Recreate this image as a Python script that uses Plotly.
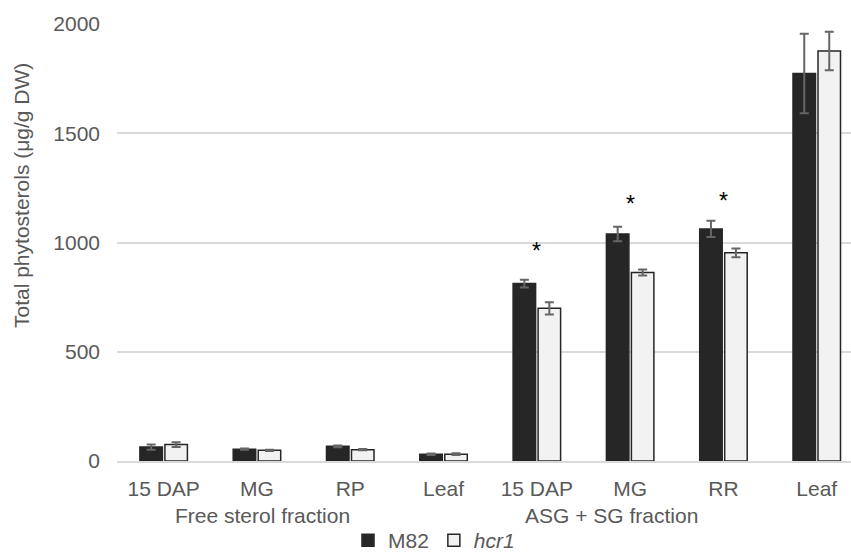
import plotly.graph_objects as go

categories = ["15 DAP", "MG", "RP", "Leaf", "15 DAP", "MG", "RR", "Leaf"]
m82_values = [64, 54, 67, 31, 812, 1039, 1062, 1773]
m82_errors = [12, 3, 4, 3, 18, 33, 37, 182]
hcr1_values = [75, 49, 52, 31, 699, 863, 953, 1876]
hcr1_errors = [11, 3, 3, 4, 28, 14, 20, 88]
group_labels = ["Free sterol fraction", "ASG + SG fraction"]
group_label_pos = [1.06, 4.80]
star_categories = [4, 5, 6]
star_values = [978, 1193, 1207]
y_ticks = [0, 500, 1000, 1500, 2000]

xs = list(range(len(categories)))
FONT = "Liberation Sans, Arial, sans-serif"
TXT = "#595959"

fig = go.Figure()
fig.add_trace(go.Bar(
    x=xs, y=m82_values, name="M82",
    marker=dict(color="#262626", line=dict(color="#262626", width=1.5)),
    error_y=dict(type="data", array=m82_errors, color="#666666", thickness=2, width=4.5),
))
fig.add_trace(go.Bar(
    x=xs, y=hcr1_values, name="<i>hcr1</i>",
    marker=dict(color="#f2f2f2", line=dict(color="#262626", width=1.5)),
    error_y=dict(type="data", array=hcr1_errors, color="#666666", thickness=2, width=4.5),
))

annotations = []
for lbl, pos in zip(group_labels, group_label_pos):
    annotations.append(dict(x=pos, y=-0.124, xref="x", yref="paper", text=lbl,
                            showarrow=False, font=dict(size=21, color=TXT, family=FONT),
                            xanchor="center", yanchor="middle"))
for c, v in zip(star_categories, star_values):
    annotations.append(dict(x=c, y=v, xref="x", yref="y", text="*",
                            showarrow=False, font=dict(size=23, color="#000000", family=FONT),
                            xanchor="center", yanchor="middle", yshift=-4))
annotations.append(dict(x=(22 - 117) / 734, y=(461 - 196) / 437, xref="paper", yref="paper",
                        text="Total phytosterols (μg/g DW)",
                        showarrow=False, textangle=-90, xanchor="center", yanchor="middle",
                        font=dict(size=21, color=TXT, family=FONT)))

fig.update_layout(
    width=851, height=554,
    margin=dict(l=117, r=0, t=24, b=93, autoexpand=False),
    paper_bgcolor="white", plot_bgcolor="white",
    barmode="group", bargap=0.464, bargroupgap=0.1,
    font=dict(family=FONT, size=21, color=TXT),
    xaxis=dict(
        range=[-0.5, -0.5 + 734 / 93.3],
        tickmode="array", tickvals=xs, ticktext=categories,
        showgrid=False, showline=True, linecolor="#d9d9d9", linewidth=2,
        ticks="", tickfont=dict(size=21, color=TXT), ticklabelstandoff=8,
    ),
    yaxis=dict(
        range=[0, 2000], tickvals=y_ticks,
        showgrid=True, gridcolor="#d9d9d9", gridwidth=1.5,
        zeroline=False, showline=False, ticks="",
        tickfont=dict(size=21, color=TXT), ticklabelstandoff=16,
    ),
    legend=dict(orientation="h", x=(434 - 117) / 734, xref="paper", xanchor="center",
                y=-(561 - 461) / 437, yanchor="bottom", font=dict(size=21, color=TXT),
                itemwidth=30, traceorder="normal", bgcolor="rgba(0,0,0,0)",
                borderwidth=0),
    annotations=annotations,
)

fig.write_html("out.html")
